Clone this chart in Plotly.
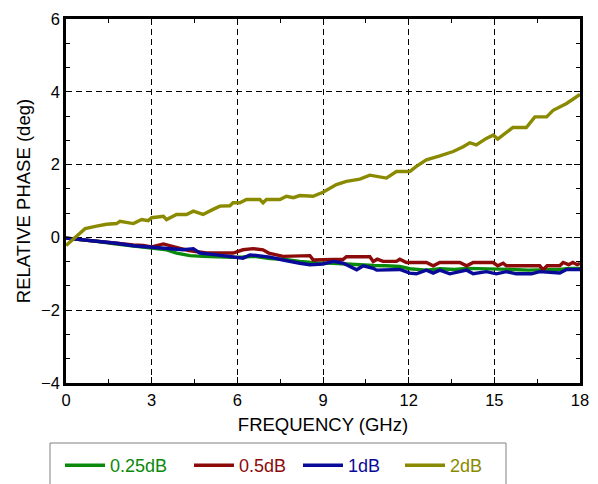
import plotly.graph_objects as go

# ---- data ----
freq_2db = [0.0, 0.37, 0.67, 1.07, 1.42, 1.77, 1.89, 2.36, 2.65, 2.88, 3.0, 3.41, 3.52, 3.87, 4.22, 4.46, 4.8, 5.15,
            5.39, 5.74, 5.85, 6.09, 6.32, 6.79, 6.9, 7.02, 7.49, 7.72, 7.96, 8.19, 8.65, 9.0, 9.47, 9.82, 10.29,
            10.64, 11.22, 11.57, 12.04, 12.27, 12.62, 13.09, 13.56, 13.91, 14.14, 14.37, 14.72, 14.96, 15.12,
            15.65, 16.12, 16.42, 16.83, 17.06, 17.53, 18.0]
phase_2db = [-0.22, 0.04, 0.24, 0.31, 0.36, 0.38, 0.44, 0.38, 0.49, 0.46, 0.54, 0.58, 0.49, 0.63, 0.63, 0.72, 0.63,
             0.77, 0.86, 0.87, 0.95, 0.95, 1.04, 1.04, 0.95, 1.04, 1.04, 1.13, 1.09, 1.15, 1.13, 1.24, 1.45, 1.54,
             1.6, 1.71, 1.63, 1.81, 1.81, 1.95, 2.13, 2.24, 2.36, 2.49, 2.6, 2.54, 2.72, 2.81, 2.7, 3.02, 3.02,
             3.31, 3.31, 3.49, 3.68, 3.93]

freq_1db = [0.0, 0.6, 1.19, 1.77, 2.36, 2.71, 2.94, 3.53, 4.1, 4.46, 4.69, 5.27, 5.85, 6.2, 6.44, 6.79, 7.14, 7.6,
            7.84, 8.19, 8.54, 9.0, 9.36, 9.71, 10.18, 10.41, 10.76, 10.88, 11.69, 12.04, 12.27, 12.62, 12.86,
            13.09, 13.44, 14.03, 14.26, 14.72, 15.07, 15.42, 15.77, 16.3, 16.59, 17.29, 17.53, 18.0]
phase_1db = [-0.02, -0.06, -0.11, -0.16, -0.23, -0.25, -0.28, -0.3, -0.34, -0.31, -0.43, -0.48, -0.54, -0.57,
             -0.48, -0.52, -0.54, -0.62, -0.66, -0.71, -0.75, -0.73, -0.66, -0.71, -0.89, -0.78, -0.85, -0.9,
             -0.88, -0.98, -1.0, -0.9, -0.98, -0.9, -1.0, -0.9, -1.0, -0.94, -1.0, -0.94, -1.0, -1.0, -0.94,
             -0.98, -0.88, -0.88]

freq_05db = [0.0, 0.6, 1.19, 1.77, 2.36, 2.71, 3.0, 3.41, 3.99, 4.3, 4.92, 5.85, 6.2, 6.55, 6.9, 7.1, 7.6, 8.19,
             8.54, 8.66, 9.71, 9.82, 10.64, 10.76, 10.9, 11.1, 11.57, 11.69, 11.92, 12.62, 12.86, 13.09, 13.79,
             14.03, 14.26, 14.96, 15.12, 15.31, 15.42, 16.59, 16.71, 16.85, 17.29, 17.41, 17.6, 17.75, 17.9, 18.0]
phase_05db = [-0.02, -0.06, -0.11, -0.16, -0.21, -0.22, -0.26, -0.18, -0.3, -0.36, -0.43, -0.43, -0.34, -0.31,
              -0.34, -0.43, -0.52, -0.52, -0.5, -0.62, -0.6, -0.53, -0.53, -0.66, -0.6, -0.66, -0.66, -0.6,
              -0.69, -0.69, -0.78, -0.69, -0.69, -0.78, -0.69, -0.69, -0.78, -0.71, -0.78, -0.78, -0.89,
              -0.78, -0.78, -0.69, -0.75, -0.69, -0.75, -0.71]

freq_025db = [0.0, 0.6, 1.19, 1.77, 2.36, 2.71, 3.0, 3.53, 3.87, 4.34, 4.8, 5.3, 5.85, 6.2, 6.6, 7.14, 7.6, 8.19,
              8.8, 9.36, 9.71, 10.18, 10.76, 11.2, 11.69, 12.04, 12.62, 13.1, 13.6, 14.03, 14.5, 15.07, 15.6,
              16.2, 16.71, 17.29, 17.6, 18.0]
phase_025db = [-0.02, -0.06, -0.12, -0.18, -0.24, -0.27, -0.3, -0.34, -0.43, -0.5, -0.52, -0.54, -0.55, -0.54,
               -0.52, -0.58, -0.6, -0.66, -0.7, -0.71, -0.73, -0.75, -0.77, -0.78, -0.8, -0.86, -0.9, -0.86,
               -0.88, -0.85, -0.86, -0.85, -0.88, -0.9, -0.9, -0.88, -0.85, -0.85]

series = [
    ("0.25dB", freq_025db, phase_025db, "#0a8a0a"),
    ("0.5dB", freq_05db, phase_05db, "#8c0a0a"),
    ("1dB", freq_1db, phase_1db, "#0a0a9a"),
    ("2dB", freq_2db, phase_2db, "#8a8a00"),
]

x_ticks = [0, 3, 6, 9, 12, 15, 18]
y_ticks = [-4, -2, 0, 2, 4, 6]

OFF = 8            # page body margin offset in the screenshot
W, H = 598 - OFF, 484 - OFF
legend_item_px = [60, 189, 298, 400]   # screen x of each legend entry
legend_ids = ["legend", "legend2", "legend3", "legend4"]

fig = go.Figure()
for (name, xs, ys, col), lid in zip(series, legend_ids):
    fig.add_trace(go.Scatter(
        x=xs, y=ys, mode="lines", line=dict(color=col, width=3.4),
        name=f"<span style='color:{col}'>{name}</span>", legend=lid,
    ))

font_family = "Liberation Sans, Arial, sans-serif"
axis_common = dict(
    showline=True, linecolor="black", linewidth=2.6, mirror="ticks",
    ticks="inside", ticklen=6, tickwidth=1, tickcolor="black",
    showgrid=True, gridcolor="black", gridwidth=1, griddash="6px,4px",
    zeroline=False, automargin=False,
    tickfont=dict(size=16.5, color="black", family=font_family),
    title_font=dict(size=18.5, color="black", family=font_family),
)

fig.update_xaxes(
    range=[0, 18], tickvals=x_ticks, title_text="FREQUENCY (GHz)", title_standoff=11,
    minor=dict(dtick=1.5, tick0=0, ticks="inside", ticklen=4, tickcolor="black", showgrid=False),
    **axis_common,
)
fig.update_yaxes(
    range=[-4, 6], tickvals=y_ticks, title_text="RELATIVE PHASE (deg)", title_standoff=6,
    minor=dict(dtick=2 / 3, tick0=0, ticks="inside", ticklen=4, tickcolor="black", showgrid=False),
    **axis_common,
)

fig.add_shape(type="rect", xref="paper", yref="paper",
              x0=(50 - 66) / 514, x1=(506 - 66) / 514,
              y0=(383 - 500) / 364, y1=(383 - 443) / 364,
              line=dict(color="#808080", width=1), fillcolor="white", layer="below")

legend_common = dict(
    orientation="h", xref="container", yref="container", xanchor="left", yanchor="top",
    y=1 - (447 - OFF) / H, font=dict(size=18, family=font_family), itemwidth=40,
    bgcolor="rgba(0,0,0,0)",
)
legends = {}
for lid, px in zip(legend_ids, legend_item_px):
    legends[lid] = dict(x=(px - OFF) / W, **legend_common)

fig.update_layout(
    width=W, height=H,
    margin=dict(l=66 - OFF, r=598 - 580, t=19 - OFF, b=484 - 383),
    paper_bgcolor="white", plot_bgcolor="white",
    font=dict(family=font_family, color="black"),
    showlegend=True,
    **legends,
)

fig.write_html("out.html")
